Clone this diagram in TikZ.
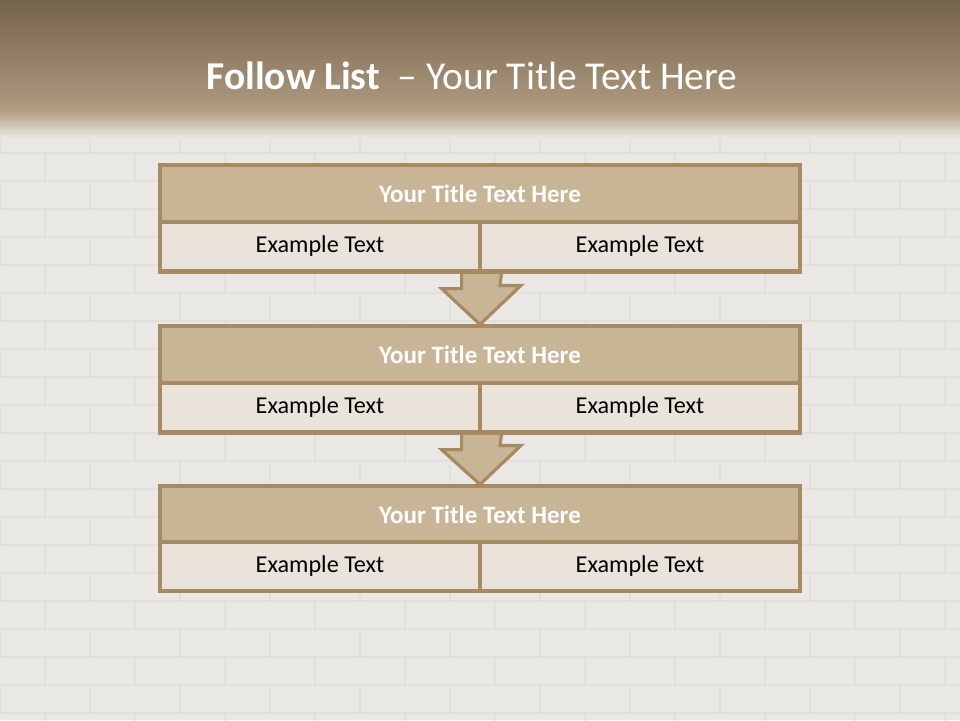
\documentclass[tikz,border=0pt]{standalone}
\usepackage{fontspec}
\setmainfont{Carlito}
\usetikzlibrary{calc}
\definecolor{wall}{HTML}{EAE8E4}
\definecolor{mortar}{HTML}{DCD9D3}
\definecolor{hdtop}{HTML}{75624A}
\definecolor{hdmid}{HTML}{A8957A}
\definecolor{hdlow}{HTML}{B3A084}
\definecolor{edge}{HTML}{A88A60}
\definecolor{titlefill}{HTML}{C8B596}
\definecolor{cellfill}{HTML}{E9E3DA}
\tikzset{
  titlerow/.style={draw=edge, line width=3.2pt, fill=titlefill, minimum width=640pt, minimum height=57pt, inner sep=0pt,
    text=white, font=\fontsize{25}{30}\selectfont\bfseries},
  cellbox/.style={draw=edge, line width=3.2pt, fill=cellfill, minimum width=320pt, minimum height=49pt, inner sep=0pt,
    text=black, font=\fontsize{24.2}{29}\selectfont},
  downarrow/.style={draw=edge, line width=3.2pt, fill=titlefill, line join=miter},
  brick/.style={draw=mortar, line width=1.2pt, opacity=0.5}
}
\begin{document}
\begin{tikzpicture}[x=1pt,y=-1pt]
\useasboundingbox (0,0) rectangle (960,720);
% wall
\fill[wall] (0,0) rectangle (960,720);
\foreach \r in {0,...,21}{
  \pgfmathsetmacro{\yy}{125+28*\r}
  \draw[brick] (0,\yy) -- (960,\yy);
  \pgfmathsetmacro{\off}{mod(\r,2)*45}
  \foreach \c in {0,...,11}{
    \draw[brick] ({\off+90*\c},\yy) -- ++(0,28);
  }
}
% header
\shade[top color=hdtop, bottom color=hdmid] (0,0) rectangle (960,100);
\shade[top color=hdmid, bottom color=hdlow] (0,99.5) rectangle (960,112);
\shade[top color=hdlow, bottom color=wall] (0,111.5) rectangle (960,138);
\node[text=white, font=\fontsize{39.5}{44}\selectfont] (head) at (472,76)
  {\textbf{Follow List}\ \ – Your Title Text Here};
% block 1
\node[titlerow] (t1) at (480,193.5) {Your Title Text Here};
\node[cellbox] (l1) at (320,246.5) {Example Text};
\node[cellbox] (r1) at (640,246.5) {Example Text};
% block 2
\node[titlerow] (t2) at (480,354.5) {Your Title Text Here};
\node[cellbox] (l2) at (320,407.5) {Example Text};
\node[cellbox] (r2) at (640,407.5) {Example Text};
% block 3
\node[titlerow] (t3) at (480,514.5) {Your Title Text Here};
\node[cellbox] (l3) at (320,566.5) {Example Text};
\node[cellbox] (r3) at (640,566.5) {Example Text};
% arrows
\draw[downarrow] ($(l1.south east)+(-20,0)$) -- ++(0,16) -- ++(-20,0) -- (t2.north) -- ++(41,-39) -- ++(-21,0) -- ($(l1.south east)+(20,0)$);
\draw[downarrow] ($(l2.south east)+(-20,0)$) -- ++(0,16) -- ++(-20,0) -- (t3.north) -- ++(41,-39) -- ++(-21,0) -- ($(l2.south east)+(20,0)$);
% redraw box edges over arrow ends
\draw[edge, line width=3.2pt] (l1.south west) -- (r1.south east);
\draw[edge, line width=3.2pt] (l2.south west) -- (r2.south east);
\end{tikzpicture}
\end{document}
